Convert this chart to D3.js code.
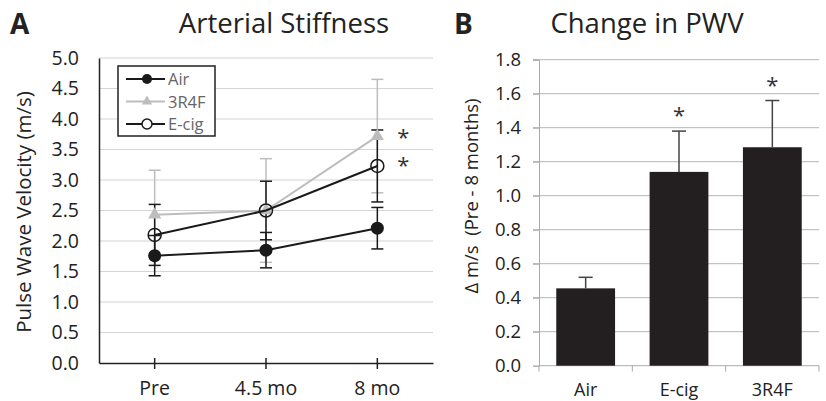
<!DOCTYPE html>
<html>
<head>
<meta charset="utf-8">
<script src="https://cdn.jsdelivr.net/npm/d3@7"></script>
<style>
  body { margin: 0; background: #fff; }
  svg text { font-family: "Open Sans", sans-serif; }
</style>
</head>
<body>
<svg id="chart" width="826" height="401"></svg>
<script>
// Panel A data
const timepoints = ['Pre', '4.5 mo', '8 mo'];
const airMean = [1.76, 1.85, 2.21];
const airErr = [0.33, 0.29, 0.34];
const cigMean = [2.43, 2.50, 3.72];
const cigErr = [0.73, 0.85, 0.93];
const ecigMean = [2.10, 2.50, 3.23];
const ecigErr = [0.50, 0.48, 0.59];
const pwvTicks = [0, 0.5, 1.0, 1.5, 2.0, 2.5, 3.0, 3.5, 4.0, 4.5, 5.0];

// Panel B data
const groups = ['Air', 'E-cig', '3R4F'];
const changeMean = [0.455, 1.14, 1.285];
const changeErr = [0.065, 0.24, 0.275];
const changeTicks = [0, 0.2, 0.4, 0.6, 0.8, 1.0, 1.2, 1.4, 1.6, 1.8];

const svg = d3.select('#chart');

// ---------- Panel A ----------
const a = { left: 99, right: 433, top: 58, bottom: 363 };

const xA = d3.scaleBand()
    .domain(timepoints)
    .range([a.left, a.right]);

const yA = d3.scaleLinear()
    .domain([0, 5])
    .range([a.bottom, a.top]);

const gA = svg.append('g');

// gridlines
gA.selectAll('.grid')
    .data(pwvTicks.filter(d => d > 0))
    .enter()
    .append('line')
    .attr('x1', a.left)
    .attr('x2', a.right)
    .attr('y1', d => yA(d))
    .attr('y2', d => yA(d))
    .attr('stroke', '#d4d4d4')
    .attr('stroke-width', 1.2);

// y axis
gA.append('g')
    .attr('transform', `translate(${a.left},0)`)
    .call(d3.axisLeft(yA).tickValues(pwvTicks).tickFormat(d3.format('.1f')).tickSize(0).tickPadding(20))
    .call(g => g.select('.domain').attr('stroke', '#222').attr('stroke-width', 1.5))
    .call(g => g.selectAll('text').attr('font-size', 19.5).attr('fill', '#222').attr('font-family', 'Open Sans'));

// x axis
gA.append('g')
    .attr('transform', `translate(0,${a.bottom})`)
    .call(d3.axisBottom(xA).tickSizeInner(6).tickSizeOuter(0).tickPadding(12))
    .call(g => g.select('.domain').attr('stroke', '#222').attr('stroke-width', 1.5))
    .call(g => g.selectAll('.tick line').attr('stroke', '#222').attr('stroke-width', 1.5).attr('y1', -5))
    .call(g => g.selectAll('text').attr('font-size', 19.5).attr('fill', '#222').attr('font-family', 'Open Sans'));

const cx = d => xA(d) + xA.bandwidth() / 2;

// series definitions
const seriesA = [
    { name: 'Air', mean: airMean, err: airErr, color: '#1a1a1a', marker: 'dot' },
    { name: '3R4F', mean: cigMean, err: cigErr, color: '#bdbdbd', marker: 'tri' },
    { name: 'E-cig', mean: ecigMean, err: ecigErr, color: '#1a1a1a', marker: 'open' }
];

// error bars first (grey ones under black)
const errOrder = [seriesA[1], seriesA[0], seriesA[2]];
errOrder.forEach(s => {
    const eg = gA.append('g').attr('stroke', s.color).attr('stroke-width', 1.5);
    timepoints.forEach((t, i) => {
        const x = cx(t);
        const hi = yA(s.mean[i] + s.err[i]);
        const lo = yA(s.mean[i] - s.err[i]);
        eg.append('line').attr('x1', x).attr('x2', x).attr('y1', hi).attr('y2', lo);
        eg.append('line').attr('x1', x - 6).attr('x2', x + 6).attr('y1', hi).attr('y2', hi);
        eg.append('line').attr('x1', x - 6).attr('x2', x + 6).attr('y1', lo).attr('y2', lo);
    });
});

const line = d3.line()
    .x(d => cx(d.t))
    .y(d => yA(d.v));

function drawMarker(g, type, x, y, color) {
    if (type === 'dot') {
        g.append('circle').attr('cx', x).attr('cy', y).attr('r', 6.5).attr('fill', color);
    } else if (type === 'open') {
        g.append('circle').attr('cx', x).attr('cy', y).attr('r', 6.5)
            .attr('fill', 'none').attr('stroke', color).attr('stroke-width', 1.5);
    } else {
        g.append('path')
            .attr('d', d3.symbol().type(d3.symbolTriangle).size(75)())
            .attr('transform', `translate(${x},${y})`)
            .attr('fill', color);
    }
}

seriesA.forEach(s => {
    const pts = timepoints.map((t, i) => ({ t: t, v: s.mean[i] }));
    gA.append('path')
        .datum(pts)
        .attr('d', line)
        .attr('fill', 'none')
        .attr('stroke', s.color)
        .attr('stroke-width', 2);
    pts.forEach(p => drawMarker(gA, s.marker, cx(p.t), yA(p.v), s.color));
});

// significance stars
[cigMean[2], ecigMean[2]].forEach((v, i) => {
    gA.append('text')
        .attr('x', cx('8 mo') + 26)
        .attr('y', yA(v) + (i === 0 ? 9 : 7))
        .attr('text-anchor', 'middle')
        .attr('font-size', 22)
        .attr('fill', '#333')
        .text('*');
});

// legend
const lg = gA.append('g').attr('transform', 'translate(118,66)');
lg.append('rect')
    .attr('width', 97).attr('height', 70)
    .attr('fill', '#fff').attr('stroke', '#222').attr('stroke-width', 1.5);
seriesA.forEach((s, i) => {
    const y = 13 + i * 22.5;
    lg.append('line').attr('x1', 8).attr('x2', 47).attr('y1', y).attr('y2', y)
        .attr('stroke', s.color).attr('stroke-width', 2);
    drawMarker(lg, s.marker, 29, y, s.color);
    const m = lg.select(':last-child');
    if (s.marker !== 'tri') m.attr('r', 5);
    if (s.marker === 'open') m.attr('fill', '#fff');
    if (s.marker === 'tri') m.attr('d', d3.symbol().type(d3.symbolTriangle).size(45)());
    lg.append('text').attr('x', 50).attr('y', y + 6)
        .attr('font-size', 16.5).attr('fill', '#666').text(s.name);
});

// labels
svg.append('text')
    .attr('transform', 'translate(31,212) rotate(-90)')
    .attr('text-anchor', 'middle')
    .attr('font-size', 20.5)
    .attr('fill', '#222')
    .text('Pulse Wave Velocity (m/s)');

svg.append('text')
    .attr('x', 284).attr('y', 33)
    .attr('text-anchor', 'middle')
    .attr('font-size', 27.5)
    .attr('fill', '#222')
    .text('Arterial Stiffness');

svg.append('text')
    .attr('x', 10).attr('y', 34)
    .attr('font-size', 28).attr('font-weight', 'bold')
    .attr('fill', '#222')
    .text('A');

// ---------- Panel B ----------
const b = { left: 539, right: 819, top: 59.7, bottom: 365.7 };

const xB = d3.scaleBand()
    .domain(groups)
    .range([b.left, b.right])
    .paddingInner(0.37)
    .paddingOuter(0.185);

const yB = d3.scaleLinear()
    .domain([0, 1.8])
    .range([b.bottom, b.top]);

const gB = svg.append('g');

gB.selectAll('.grid')
    .data(changeTicks.filter(d => d > 0))
    .enter()
    .append('line')
    .attr('x1', b.left - 6)
    .attr('x2', b.right)
    .attr('y1', d => yB(d))
    .attr('y2', d => yB(d))
    .attr('stroke', '#b5b5b5')
    .attr('stroke-width', 1);

gB.append('g')
    .attr('transform', `translate(${b.left},0)`)
    .call(d3.axisLeft(yB).tickValues(changeTicks).tickFormat(d3.format('.1f')).tickSize(6).tickPadding(12))
    .call(g => g.select('.domain').attr('stroke', '#aaa').attr('stroke-width', 1))
    .call(g => g.selectAll('.tick line').attr('stroke', '#aaa'))
    .call(g => g.selectAll('text').attr('font-size', 18.5).attr('fill', '#222').attr('font-family', 'Open Sans'));

// x axis with ticks between categories
const bandStep = xB.step();
const xAxisB = gB.append('g').attr('transform', `translate(0,${b.bottom})`);
xAxisB.append('line')
    .attr('x1', b.left).attr('x2', b.right)
    .attr('stroke', '#aaa').attr('stroke-width', 1);
xAxisB.selectAll('.sep')
    .data(d3.range(groups.length + 1))
    .enter()
    .append('line')
    .attr('x1', i => b.left + i * bandStep)
    .attr('x2', i => b.left + i * bandStep)
    .attr('y1', 0).attr('y2', 6)
    .attr('stroke', '#aaa');
xAxisB.selectAll('text')
    .data(groups)
    .enter()
    .append('text')
    .attr('x', d => xB(d) + xB.bandwidth() / 2)
    .attr('y', 30)
    .attr('text-anchor', 'middle')
    .attr('font-size', 18)
    .attr('fill', '#222')
    .text(d => d);

// bars
gB.selectAll('.bar')
    .data(groups)
    .enter()
    .append('rect')
    .attr('x', d => xB(d))
    .attr('width', xB.bandwidth())
    .attr('y', (d, i) => yB(changeMean[i]))
    .attr('height', (d, i) => b.bottom - yB(changeMean[i]))
    .attr('fill', '#231f20');

// error bars (upper only)
groups.forEach((d, i) => {
    const x = xB(d) + xB.bandwidth() / 2;
    const top = yB(changeMean[i] + changeErr[i]);
    gB.append('line').attr('x1', x).attr('x2', x)
        .attr('y1', yB(changeMean[i])).attr('y2', top)
        .attr('stroke', '#444').attr('stroke-width', 1.5);
    gB.append('line').attr('x1', x - 7).attr('x2', x + 7)
        .attr('y1', top).attr('y2', top)
        .attr('stroke', '#444').attr('stroke-width', 1.5);
    if (i > 0) {
        gB.append('text')
            .attr('x', x).attr('y', top - 8)
            .attr('text-anchor', 'middle')
            .attr('font-size', 22)
            .attr('fill', '#333')
            .text('*');
    }
});

svg.append('text')
    .attr('transform', 'translate(478,196) rotate(-90)')
    .attr('text-anchor', 'middle')
    .attr('font-size', 18.5)
    .attr('fill', '#222')
    .attr('xml:space', 'preserve')
    .text('\u0394 m/s  (Pre - 8 months)');

svg.append('text')
    .attr('x', 647).attr('y', 33)
    .attr('text-anchor', 'middle')
    .attr('font-size', 27.5)
    .attr('fill', '#222')
    .text('Change in PWV');

svg.append('text')
    .attr('x', 454).attr('y', 34)
    .attr('font-size', 28).attr('font-weight', 'bold')
    .attr('fill', '#222')
    .text('B');
</script>
</body>
</html>
